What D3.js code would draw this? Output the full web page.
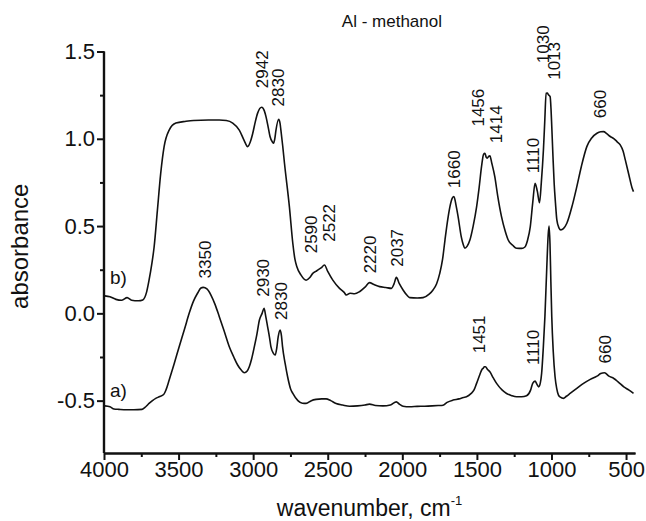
<!DOCTYPE html>
<html>
<head>
<meta charset="utf-8">
<script src="https://cdn.jsdelivr.net/npm/d3@7"></script>
<style>
  body { margin: 0; background: #fff; }
  text { font-family: "Liberation Sans", Arial, sans-serif; fill: #111; }
</style>
</head>
<body>
<div id="chart"></div>
<script>
// spectrum b) (upper trace)
const wnB = [3995, 3960, 3920, 3880, 3845, 3815, 3770, 3740, 3715, 3698, 3680, 3664, 3642, 3620, 3597, 3563, 3518, 3450, 3400, 3300, 3227, 3180, 3137, 3093, 3060, 3037, 3020, 3003, 2985, 2970, 2943, 2925, 2914, 2900, 2887, 2870, 2863, 2855, 2847, 2829, 2820, 2814, 2802, 2790, 2757, 2734, 2720, 2707, 2680, 2645, 2620, 2600, 2580, 2567, 2545, 2522, 2500, 2466, 2421, 2390, 2376, 2350, 2320, 2287, 2250, 2220, 2190, 2152, 2110, 2073, 2055, 2040, 2020, 1995, 1970, 1950, 1900, 1861, 1820, 1794, 1770, 1749, 1730, 1714, 1695, 1681, 1665, 1654, 1640, 1626, 1605, 1590, 1581, 1565, 1547, 1525, 1502, 1485, 1469, 1455, 1446, 1438, 1431, 1420, 1413, 1400, 1380, 1360, 1335, 1310, 1290, 1260, 1234, 1200, 1178, 1160, 1142, 1125, 1110, 1095, 1080, 1068, 1054, 1045, 1036, 1028, 1020, 1009, 1003, 998, 990, 982, 973, 964, 950, 937, 920, 897, 860, 830, 800, 763, 730, 695, 670, 651, 630, 606, 580, 561, 539, 520, 505, 480, 460, 450];
const absB = [0.10, 0.095, 0.08, 0.075, 0.09, 0.075, 0.072, 0.077, 0.12, 0.19, 0.28, 0.38, 0.59, 0.80, 0.955, 1.05, 1.09, 1.10, 1.105, 1.108, 1.108, 1.105, 1.09, 1.05, 0.99, 0.955, 0.98, 1.03, 1.10, 1.147, 1.181, 1.16, 1.127, 1.07, 1.013, 0.98, 0.975, 1.00, 1.05, 1.112, 1.09, 1.05, 0.96, 0.86, 0.61, 0.40, 0.31, 0.267, 0.22, 0.19, 0.205, 0.229, 0.24, 0.248, 0.26, 0.277, 0.24, 0.19, 0.143, 0.12, 0.105, 0.115, 0.112, 0.124, 0.15, 0.176, 0.165, 0.153, 0.148, 0.143, 0.17, 0.206, 0.17, 0.134, 0.105, 0.09, 0.088, 0.09, 0.11, 0.134, 0.17, 0.229, 0.31, 0.42, 0.54, 0.61, 0.66, 0.669, 0.62, 0.554, 0.44, 0.39, 0.373, 0.385, 0.42, 0.50, 0.61, 0.72, 0.84, 0.912, 0.917, 0.895, 0.889, 0.90, 0.902, 0.86, 0.783, 0.67, 0.554, 0.47, 0.42, 0.39, 0.373, 0.372, 0.38, 0.42, 0.497, 0.64, 0.745, 0.70, 0.634, 0.75, 0.936, 1.10, 1.261, 1.262, 1.252, 1.242, 1.17, 1.07, 0.90, 0.745, 0.63, 0.535, 0.49, 0.478, 0.485, 0.516, 0.62, 0.726, 0.84, 0.955, 1.005, 1.032, 1.04, 1.041, 1.03, 1.013, 1.00, 0.984, 0.965, 0.93, 0.879, 0.79, 0.72, 0.697];

// spectrum a) (lower trace)
const wnA = [3995, 3960, 3933, 3900, 3850, 3800, 3745, 3720, 3698, 3675, 3653, 3630, 3600, 3585, 3563, 3530, 3496, 3460, 3429, 3400, 3373, 3350, 3335, 3310, 3283, 3255, 3227, 3195, 3160, 3130, 3104, 3080, 3059, 3040, 3026, 3010, 2992, 2975, 2958, 2940, 2927, 2915, 2903, 2890, 2881, 2865, 2852, 2842, 2832, 2819, 2810, 2803, 2785, 2769, 2750, 2734, 2700, 2670, 2645, 2610, 2578, 2540, 2511, 2480, 2444, 2400, 2354, 2300, 2250, 2220, 2180, 2130, 2080, 2040, 2020, 1995, 1950, 1900, 1850, 1800, 1760, 1727, 1700, 1660, 1620, 1590, 1570, 1540, 1520, 1502, 1480, 1465, 1458, 1450, 1442, 1430, 1413, 1390, 1368, 1330, 1301, 1270, 1234, 1200, 1167, 1140, 1126, 1110, 1098, 1086, 1075, 1066, 1055, 1044, 1032, 1022, 1016, 1010, 1004, 998, 988, 976, 965, 953, 940, 920, 900, 875, 830, 785, 740, 695, 670, 644, 615, 582, 550, 515, 480, 450];
const absA = [-0.530, -0.535, -0.548, -0.55, -0.552, -0.552, -0.55, -0.535, -0.516, -0.50, -0.487, -0.478, -0.465, -0.44, -0.382, -0.29, -0.191, -0.09, 0.0, 0.07, 0.115, 0.145, 0.149, 0.14, 0.105, 0.05, -0.019, -0.10, -0.191, -0.25, -0.296, -0.325, -0.34, -0.33, -0.306, -0.26, -0.191, -0.12, -0.038, 0.0, 0.029, -0.02, -0.077, -0.14, -0.191, -0.228, -0.239, -0.2, -0.134, -0.096, -0.13, -0.191, -0.29, -0.363, -0.43, -0.459, -0.50, -0.515, -0.516, -0.50, -0.493, -0.49, -0.49, -0.50, -0.516, -0.525, -0.532, -0.53, -0.525, -0.52, -0.528, -0.53, -0.525, -0.507, -0.52, -0.532, -0.535, -0.533, -0.532, -0.53, -0.528, -0.526, -0.51, -0.497, -0.49, -0.482, -0.478, -0.46, -0.44, -0.401, -0.35, -0.32, -0.315, -0.306, -0.306, -0.32, -0.335, -0.37, -0.401, -0.44, -0.459, -0.47, -0.478, -0.478, -0.472, -0.44, -0.401, -0.388, -0.405, -0.421, -0.40, -0.344, -0.2, -0.019, 0.25, 0.45, 0.50, 0.40, 0.18, -0.019, -0.22, -0.363, -0.43, -0.468, -0.48, -0.487, -0.475, -0.459, -0.43, -0.401, -0.378, -0.36, -0.345, -0.34, -0.36, -0.373, -0.395, -0.421, -0.44, -0.459];

// peak labels: text, wavenumber and absorbance where the label starts
const peakText = ["2942", "2830", "2590", "2522", "2220", "2037", "1660", "1456", "1414", "1110", "1030", "1013", "660",
                  "3350", "2930", "2830", "1451", "1110", "660"];
const peakWn   = [2942, 2830, 2611, 2493, 2214, 2036, 1655, 1491, 1374, 1126, 1059, 983, 673,
                  3323, 2931, 2813, 1485, 1126, 640];
const peakAbs  = [1.29, 1.185, 0.344, 0.41, 0.229, 0.267, 0.717, 1.07, 0.975, 0.803, 1.433, 1.338, 1.118,
                  0.20, 0.095, -0.038, -0.229, -0.296, -0.287];

// trace names
const traceText = ["b)", "a)"];
const traceWn = [3960, 3960];
const traceAbs = [0.17, -0.48];

const xTicks = [4000, 3500, 3000, 2500, 2000, 1500, 1000, 500];
const xMinor = [3750, 3250, 2750, 2250, 1750, 1250, 750];
const yTicks = [-0.5, 0.0, 0.5, 1.0, 1.5];
const yTickLabels = ["-0.5", "0.0", "0.5", "1.0", "1.5"];
const yMinor = [-0.25, 0.25, 0.75, 1.25];

const width = 646;
const height = 521;

const x = d3.scaleLinear().domain([4000, 440]).range([104, 635]);
const y = d3.scaleLinear().domain([-0.8, 1.5]).range([453, 51.5]);

const svg = d3
  .create("svg")
  .attr("width", width)
  .attr("height", height)
  .attr("viewBox", [0, 0, width, height]);

svg.append("rect").attr("width", width).attr("height", height).attr("fill", "#fff");

// curves
const line = d3
  .line()
  .x((d) => x(d[0]))
  .y((d) => y(d[1]))
  .curve(d3.curveMonotoneX);

[
  d3.zip(wnB, absB),
  d3.zip(wnA, absA),
].forEach((pts) => {
  svg
    .append("path")
    .datum(pts)
    .attr("fill", "none")
    .attr("stroke", "#111")
    .attr("stroke-width", 1.6)
    .attr("stroke-linejoin", "round")
    .attr("d", line);
});

// axes
const styleAxis = (g) => {
  g.select(".domain").attr("stroke", "#111").attr("stroke-width", 2.2);
  g.selectAll(".tick line").attr("stroke", "#111").attr("stroke-width", 2);
  g.selectAll(".tick text")
    .attr("font-size", 22)
    .style("font-family", '"Liberation Sans", Arial, sans-serif')
    .attr("fill", "#111");
};

svg
  .append("g")
  .attr("transform", `translate(0,${y(-0.8)})`)
  .call(d3.axisBottom(x).tickValues(xMinor).tickSize(4).tickSizeOuter(0).tickFormat(""))
  .call(styleAxis);

svg
  .append("g")
  .attr("transform", `translate(0,${y(-0.8)})`)
  .call(
    d3.axisBottom(x)
      .tickValues(xTicks)
      .tickSize(7)
      .tickPadding(1)
      .tickSizeOuter(0)
      .tickFormat(d3.format("d"))
  )
  .call(styleAxis);

svg
  .append("g")
  .attr("transform", `translate(${x(4000)},0)`)
  .call(d3.axisLeft(y).tickValues(yMinor).tickSize(4).tickSizeOuter(0).tickFormat(""))
  .call(styleAxis)
  .call((g) => g.select(".domain").attr("d", `M0,${y(1.5)}V${y(-0.8)}`));

svg
  .append("g")
  .attr("transform", `translate(${x(4000)},0)`)
  .call(
    d3.axisLeft(y)
      .tickValues(yTicks)
      .tickSize(7)
      .tickPadding(2)
      .tickSizeOuter(0)
      .tickFormat((d, i) => yTickLabels[i])
  )
  .call(styleAxis)
  .call((g) => g.select(".domain").attr("d", `M0,${y(1.5)}V${y(-0.8)}`));

// peak labels
svg
  .append("g")
  .selectAll("text")
  .data(d3.range(peakText.length))
  .join("text")
  .attr("transform", (i) => `translate(${x(peakWn[i])},${y(peakAbs[i])}) rotate(-90)`)
  .attr("dy", "0.35em")
  .attr("font-size", 17)
  .text((i) => peakText[i]);

// trace names
svg
  .append("g")
  .selectAll("text")
  .data(d3.range(traceText.length))
  .join("text")
  .attr("x", (i) => x(traceWn[i]))
  .attr("y", (i) => y(traceAbs[i]))
  .attr("font-size", 19)
  .text((i) => traceText[i]);

// title
svg
  .append("text")
  .attr("x", 442)
  .attr("y", 27)
  .attr("text-anchor", "end")
  .attr("font-size", 17)
  .text("Al - methanol");

// axis titles
svg
  .append("text")
  .attr("transform", `translate(28,${(y(1.5) + y(-0.8)) / 2 - 6}) rotate(-90)`)
  .attr("text-anchor", "middle")
  .attr("font-size", 24)
  .text("absorbance");

const xl = svg
  .append("text")
  .attr("x", (x(4000) + x(440)) / 2)
  .attr("y", 516)
  .attr("text-anchor", "middle")
  .attr("font-size", 23);
xl.append("tspan").text("wavenumber, cm");
xl.append("tspan").attr("font-size", 13).attr("dy", -11).text("-1");

document.getElementById("chart").appendChild(svg.node());
</script>
</body>
</html>
